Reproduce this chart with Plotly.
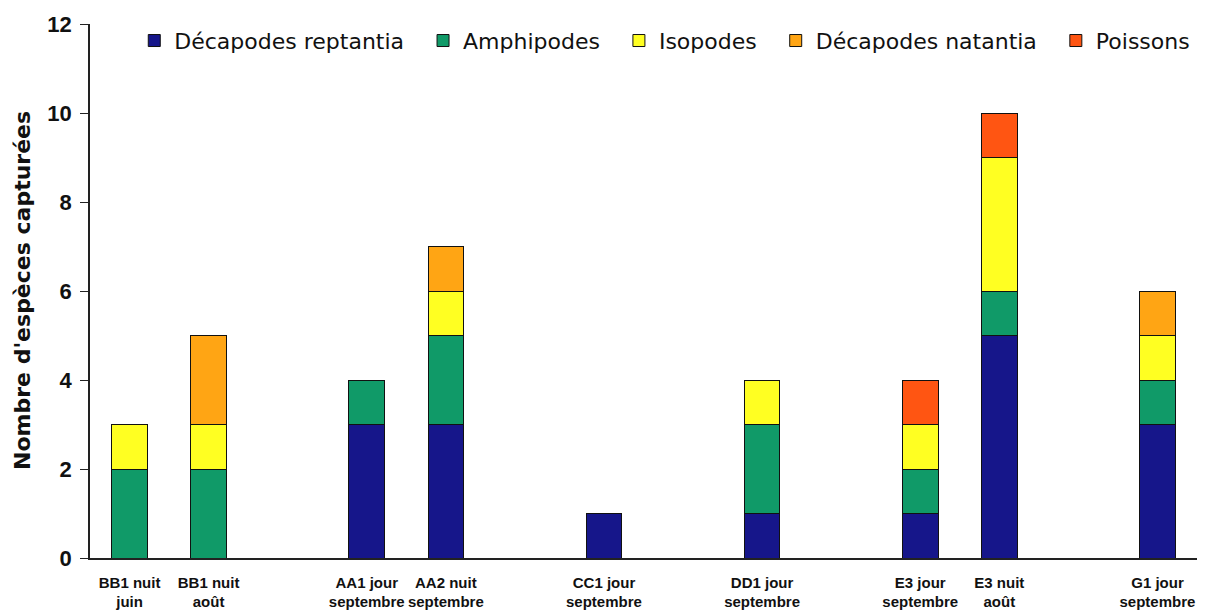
import plotly.graph_objects as go

categories = ["BB1 nuit<br>juin", "BB1 nuit<br>août", " ", "AA1 jour<br>septembre", "AA2 nuit<br>septembre",
              "  ", "CC1 jour<br>septembre", "   ", "DD1 jour<br>septembre", "    ",
              "E3 jour<br>septembre", "E3 nuit<br>août", "     ", "G1 jour<br>septembre"]
real_categories = [c for c in categories if c.strip()]

series_names = ["Décapodes reptantia", "Amphipodes", "Isopodes", "Décapodes natantia", "Poissons"]
decapodes_reptantia = [0, 0, None, 3, 3, None, 1, None, 1, None, 1, 5, None, 3]
amphipodes          = [2, 2, None, 1, 2, None, 0, None, 2, None, 1, 1, None, 1]
isopodes            = [1, 1, None, 0, 1, None, 0, None, 1, None, 1, 3, None, 1]
decapodes_natantia  = [0, 2, None, 0, 1, None, 0, None, 0, None, 0, 0, None, 1]
poissons            = [0, 0, None, 0, 0, None, 0, None, 0, None, 1, 1, None, 0]
y_ticks = [0, 2, 4, 6, 8, 10, 12]
y_title = "Nombre d'espèces capturées"

colors = ["#16168a", "#109a68", "#ffff22", "#ffa514", "#ff5512"]
values = [decapodes_reptantia, amphipodes, isopodes, decapodes_natantia, poissons]

WIDE = "DejaVu Sans, Liberation Sans, Arial, sans-serif"
ARIAL = "Liberation Sans, Arial, sans-serif"

fig = go.Figure()
for name, vals, col in zip(series_names, values, colors):
    fig.add_trace(go.Bar(
        x=categories, y=vals, name=name + "\u00a0\u00a0",
        marker=dict(color=col, line=dict(color="#111111", width=1)),
        width=0.45,
    ))

fig.update_layout(
    barmode="stack",
    width=1216, height=612,
    margin=dict(l=82, r=27, t=14, b=62),
    plot_bgcolor="white", paper_bgcolor="white",
    font=dict(family=WIDE, color="#111111"),
    legend=dict(orientation="h", x=0.040, y=1.008, yanchor="top", xanchor="left",
                font=dict(size=22, color="#111111", family=WIDE), bgcolor="rgba(0,0,0,0)",
                itemwidth=30, traceorder="normal"),
    showlegend=True,
    annotations=[dict(text=y_title, textangle=-90, xref="paper", yref="paper",
                      x=0, y=0.5, xanchor="center", yanchor="middle", xshift=-68,
                      showarrow=False, font=dict(size=22, family=WIDE, weight="bold", color="#111111"))],
)
fig.update_xaxes(
    type="category", categoryorder="array", categoryarray=categories,
    tickvals=real_categories, ticktext=real_categories, tickangle=0, automargin=False,
    showline=True, linecolor="#222222", linewidth=1.5,
    ticks="", tickfont=dict(size=15, family=ARIAL, color="#111111", weight="bold"),
    ticklabelstandoff=10,
    showgrid=False, range=[-0.5, len(categories) - 0.5],
)
fig.update_yaxes(
    range=[0, 12], tickvals=y_ticks, showline=True, linecolor="#222222", linewidth=1.5,
    ticks="outside", ticklen=8, tickcolor="#222222", automargin=False,
    tickfont=dict(size=22, family=ARIAL, color="#111111", weight="bold"),
    ticklabelstandoff=4,
    showgrid=False, zeroline=False,
)
fig.write_html("out.html")
